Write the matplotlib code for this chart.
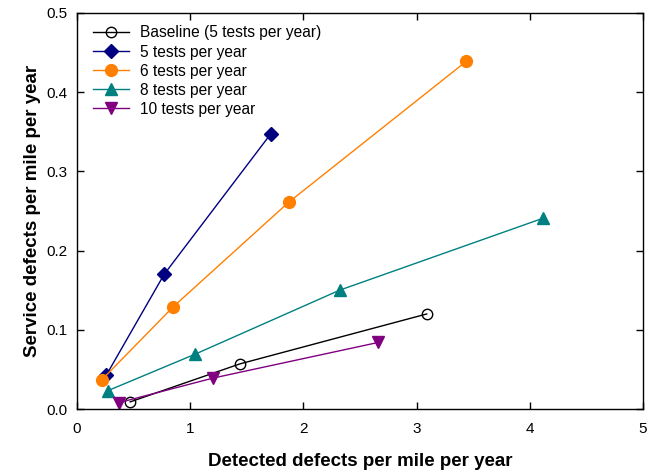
import matplotlib
matplotlib.use("Agg")
import matplotlib.pyplot as plt

plt.rcParams['font.family'] = ['Liberation Sans', 'DejaVu Sans']

# Detected defects (x) vs service defects (y), per mile per year
baseline_x = [0.47, 1.44, 3.09]
baseline_y = [0.009, 0.057, 0.120]

t5_x = [0.26, 0.77, 1.71]
t5_y = [0.043, 0.170, 0.347]

t6_x = [0.22, 0.85, 1.87, 3.44]
t6_y = [0.037, 0.129, 0.261, 0.439]

t8_x = [0.27, 1.04, 2.32, 4.12]
t8_y = [0.023, 0.069, 0.150, 0.241]

t10_x = [0.37, 1.20, 2.66]
t10_y = [0.008, 0.039, 0.084]

labels = ["Baseline (5 tests per year)", "5 tests per year", "6 tests per year",
          "8 tests per year", "10 tests per year"]

fig = plt.figure(figsize=(6.58, 4.71), dpi=100)
ax = fig.add_axes([0.117, 0.1316, 0.860, 0.8408])

ax.plot(baseline_x, baseline_y, color='black', lw=1, marker='o', ms=7.5,
        mfc='none', mec='black', mew=1, label=labels[0])
ax.plot(t5_x, t5_y, color='#000080', lw=1, marker='D', ms=7,
        mfc='#000080', mec='#000080', label=labels[1])
ax.plot(t6_x, t6_y, color='#FF8000', lw=1, marker='o', ms=8.5,
        mfc='#FF8000', mec='#FF8000', label=labels[2])
ax.plot(t8_x, t8_y, color='#008080', lw=1, marker='^', ms=8.5,
        mfc='#008080', mec='#008080', label=labels[3])
ax.plot(t10_x, t10_y, color='#800080', lw=1, marker='v', ms=8.5,
        mfc='#800080', mec='#800080', label=labels[4], zorder=2.5)

ax.set_xlim(0, 5)
ax.set_ylim(0, 0.5)
ax.set_xticks([0, 1, 2, 3, 4, 5])
ax.set_yticks([0.0, 0.1, 0.2, 0.3, 0.4, 0.5])
ax.set_yticklabels(["0.0", "0.1", "0.2", "0.3", "0.4", "0.5"])
ax.tick_params(direction='in', top=True, right=True, length=5, width=1,
               labelsize=11)
ax.tick_params(axis='x', pad=9.5)
ax.tick_params(axis='y', pad=7)
for s in ax.spines.values():
    s.set_linewidth(1)

ax.set_xlabel("Detected defects per mile per year", fontsize=13.5,
              fontweight='bold', labelpad=12)
ax.set_ylabel("Service defects per mile per year", fontsize=13.5,
              fontweight='bold', labelpad=4)

ax.legend(loc='upper left', frameon=False, fontsize=11.2, handlelength=2.3,
          handletextpad=0.7, labelspacing=0.26, borderaxespad=0.3,
          bbox_to_anchor=(0.009, 0.996))

fig.savefig("out.png", dpi=100)
